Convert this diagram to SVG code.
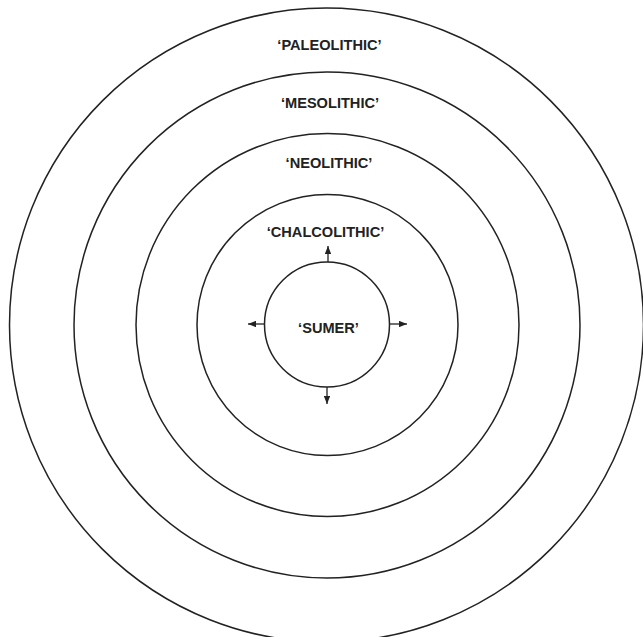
<svg xmlns="http://www.w3.org/2000/svg" width="643" height="637" viewBox="0 0 643 637">
<style>
.ring{fill:none;stroke:#222;stroke-width:1.5}
.lbl{font-family:"Liberation Sans",Arial,sans-serif;font-weight:bold;font-size:14.6px;fill:#222;text-anchor:middle}
.arr{stroke:#222;stroke-width:1.3;fill:none;marker-end:url(#ah)}
</style>
<defs>
<marker id="ah" viewBox="0 0 10 8" refX="10" refY="4" markerWidth="8" markerHeight="6.4" markerUnits="userSpaceOnUse" orient="auto">
<path d="M0,0 L10,4 L0,8 Z" fill="#222"/>
</marker>
</defs>
<rect width="643" height="637" fill="#fff"/>
<g id="paleolithic"><circle class="ring" cx="326.5" cy="325" r="317"/><text class="lbl" x="329.5" y="49.5">‘PALEOLITHIC’</text></g>
<g id="mesolithic"><circle class="ring" cx="327" cy="325" r="253"/><text class="lbl" x="330" y="107.5">‘MESOLITHIC’</text></g>
<g id="neolithic"><circle class="ring" cx="327.5" cy="325" r="191.5"/><text class="lbl" x="329" y="167.5">‘NEOLITHIC’</text></g>
<g id="chalcolithic"><circle class="ring" cx="327.5" cy="325" r="130.5"/><text class="lbl" x="325.5" y="236.5">‘CHALCOLITHIC’</text></g>
<g id="sumer"><circle class="ring" cx="327" cy="324.5" r="62.5"/><text class="lbl" x="328.5" y="333">‘SUMER’</text></g>
<g id="connectors">
<line class="arr" x1="328" y1="262" x2="328" y2="246"/>
<line class="arr" x1="327" y1="387" x2="327" y2="404"/>
<line class="arr" x1="264.5" y1="324" x2="248" y2="324"/>
<line class="arr" x1="389.5" y1="324" x2="407" y2="324"/>
</g>
</svg>
